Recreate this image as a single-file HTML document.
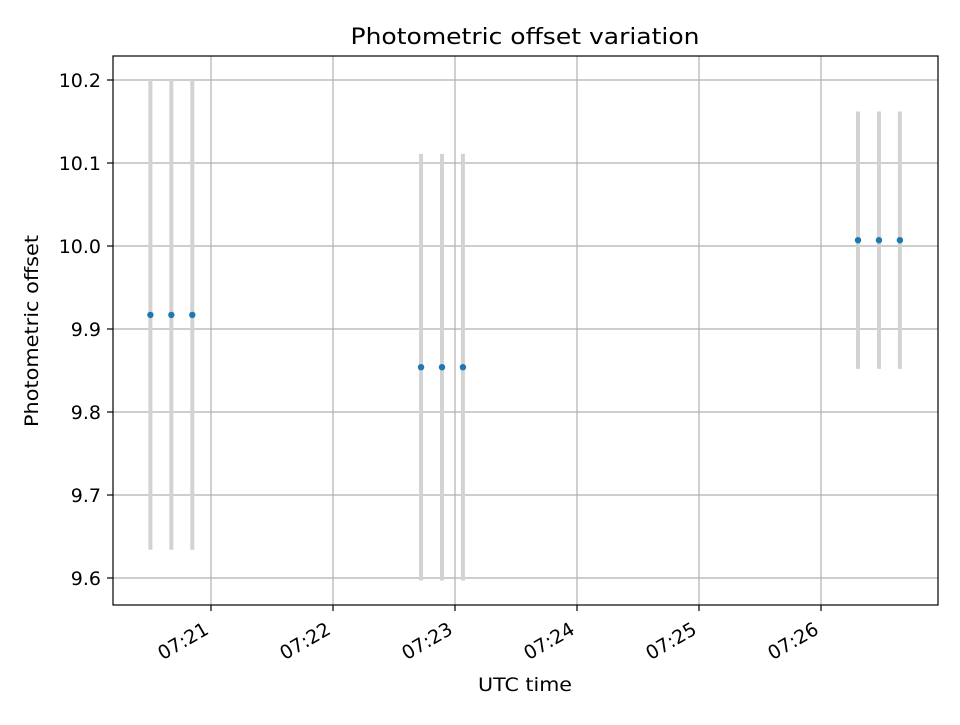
<!DOCTYPE html>
<html><head><meta charset="utf-8"><style>
body{margin:0;background:#fff;}
text{font-family:"DejaVu Sans","Liberation Sans",sans-serif;fill:#000;}
</style></head><body>
<svg id="chart" width="960" height="720" xmlns="http://www.w3.org/2000/svg">
<rect width="960" height="720" fill="#fff"/>
<g id="grid"></g>
<g id="bars"></g>
<g id="pts"></g>
<g id="ticks"></g>
<rect x="113" y="56" width="825" height="549" fill="none" stroke="#000" stroke-width="1.2"/>
<text x="525" y="44" font-size="22" text-anchor="middle" textLength="349" lengthAdjust="spacingAndGlyphs">Photometric offset variation</text>
<text x="525" y="691" font-size="19" text-anchor="middle" textLength="94" lengthAdjust="spacingAndGlyphs">UTC time</text>
<text transform="translate(38,331) rotate(-90)" font-size="19" text-anchor="middle" textLength="192" lengthAdjust="spacingAndGlyphs">Photometric offset</text>
</svg>
<script>
const times=["07:20:30.2","07:20:40.5","07:20:50.8","07:22:43.3","07:22:53.6","07:23:03.9","07:26:18.2","07:26:28.5","07:26:38.8"];
const values=[9.917,9.917,9.917,9.854,9.854,9.854,10.007,10.007,10.007];
const errors=[0.283,0.283,0.283,0.257,0.257,0.257,0.155,0.155,0.155];
const yTicks=[9.6,9.7,9.8,9.9,10.0,10.1,10.2];
const xTicks=["07:21","07:22","07:23","07:24","07:25","07:26"];
const NS="http://www.w3.org/2000/svg";
function sec(t){const p=t.split(":").map(Number);return p[0]*3600+p[1]*60+(p[2]||0);}
const x0=sec("07:21");
function xs(t){return 211+(sec(t)-x0)/60*122;}
function ys(v){return 80+(10.2-v)/0.1*83;}
function mk(tag,attrs,parent){const e=document.createElementNS(NS,tag);for(const k in attrs)e.setAttribute(k,attrs[k]);document.getElementById(parent).appendChild(e);return e;}
yTicks.forEach(v=>{
 const y=ys(v);
 const g=mk("line",{x1:113,x2:938,y1:y,y2:y,stroke:"#b0b0b0","stroke-width":1.2},"grid");
 
 
 mk("line",{x1:107,x2:113,y1:y,y2:y,stroke:"#000","stroke-width":1.2},"ticks");
 const t=mk("text",{x:101,y:y+7,"font-size":19,"text-anchor":"end"},"ticks");
 t.textContent=v.toFixed(1);
 
 
});
xTicks.forEach(s=>{
 const x=xs(s);
 const g=mk("line",{x1:x,x2:x,y1:56,y2:605,stroke:"#b0b0b0","stroke-width":1.2},"grid");
 
 
 mk("line",{x1:x,x2:x,y1:605,y2:611,stroke:"#000","stroke-width":1.2},"ticks");
 const ax=x-1, ay=633;
 const t=mk("text",{x:ax,y:ay,"font-size":19,"text-anchor":"end",transform:`rotate(-30 ${ax} ${ay})`},"ticks");
 t.textContent=s;
 
 
});
times.forEach((t,i)=>{
 const x=xs(t);
 const b=mk("line",{x1:x,x2:x,y1:ys(values[i]+errors[i]),y2:ys(values[i]-errors[i]),stroke:"#d3d3d3","stroke-width":4},"bars");
 
 
 const c=mk("circle",{cx:x,cy:ys(values[i]),r:3.2,fill:"#1f77b4"},"pts");
 
 
});
</script>
</body></html>
